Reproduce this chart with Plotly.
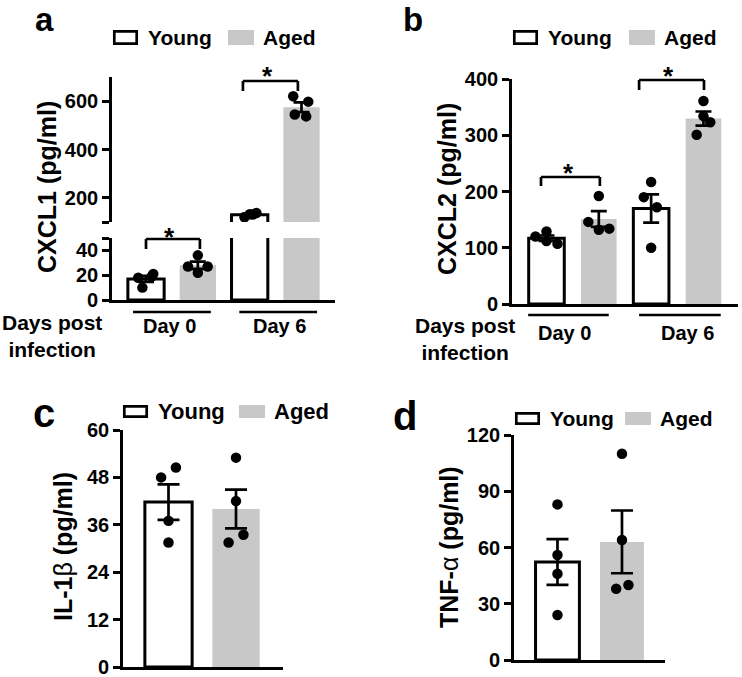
import numpy as np
import plotly.graph_objects as go

# values in pg/ml, 4 mice per group
days = ["Day 0", "Day 6"]
cxcl1_young = [[18, 10, 19, 21], [120, 137, 132, 131]]
cxcl1_aged = [[36, 27, 22, 27], [620, 598, 545, 537]]
cxcl2_young = [[120, 129, 112, 107], [217, 190, 172, 100]]
cxcl2_aged = [[192, 146, 132, 134], [361, 334, 323, 301]]
il1b_young = [48, 50.5, 37, 31.5]
il1b_aged = [53, 42, 33.5, 31.5]
tnfa_young = [83, 56, 46, 24]
tnfa_aged = [110, 64, 38, 40]

# horizontal spread of the dots (beeswarm look), in bar units
jit_a = [[-0.15, -0.07, 0.11, 0.14], [0, -0.19, 0, 0.19], [-0.1, 0.13, 0.0, 0.06], [-0.16, 0.13, -0.13, 0.09]]
jit_b = [[-0.21, 0, 0, 0.21], [0, -0.2, 0, 0.2], [0, -0.14, 0.11, 0], [0, 0, 0.13, -0.13]]
jit_c = [[-0.11, 0.11, 0, 0], [0, 0, 0.11, -0.11]]
jit_d = [[0, 0, 0, 0], [0, 0, -0.09, 0.1]]

W, H = 742, 677
FONT = "Liberation Sans, Arial, sans-serif"
GREY = "rgb(200,200,200)"
LW = 2.7


def px(x):
    return x / W


def py(y):
    return 1 - y / H


fig = go.Figure()


def add_bar(xpos, vals, jit, young, xa, ya, width, cap, msize=10.5):
    vals = np.array(vals, float)
    se = vals.std(ddof=1) / np.sqrt(len(vals))
    fig.add_trace(go.Bar(
        x=[xpos], y=[vals.mean()], width=width, xaxis=xa, yaxis=ya,
        marker=dict(color="white" if young else GREY,
                    line=dict(color="black", width=3 if young else 0)),
        error_y=dict(type="data", array=[se], color="black", thickness=LW, width=cap),
        showlegend=False, hoverinfo="skip"))
    return (xpos + np.array(jit), vals, xa, ya, msize)


dots = []
# panel a, drawn twice (lower and upper part of the broken axis)
for xa, ya in [("x", "y"), ("x2", "y2")]:
    for i in range(len(days)):
        dots.append(add_bar(2 * i, cxcl1_young[i], jit_a[2 * i], True, xa, ya, 0.7, 8))
        dots.append(add_bar(2 * i + 1, cxcl1_aged[i], jit_a[2 * i + 1], False, xa, ya, 0.7, 8))
# panel b
for i in range(len(days)):
    dots.append(add_bar(2 * i, cxcl2_young[i], jit_b[2 * i], True, "x3", "y3", 0.68, 8))
    dots.append(add_bar(2 * i + 1, cxcl2_aged[i], jit_b[2 * i + 1], False, "x3", "y3", 0.68, 8))
# panel c, d
dots.append(add_bar(0, il1b_young, jit_c[0], True, "x4", "y4", 0.7, 11))
dots.append(add_bar(1, il1b_aged, jit_c[1], False, "x4", "y4", 0.7, 11))
dots.append(add_bar(0, tnfa_young, jit_d[0], True, "x5", "y5", 0.68, 11))
dots.append(add_bar(1, tnfa_aged, jit_d[1], False, "x5", "y5", 0.68, 11))

for xs, ys, xa, ya, ms in dots:
    fig.add_trace(go.Scatter(x=xs, y=ys, mode="markers", xaxis=xa, yaxis=ya,
                             marker=dict(color="black", size=ms),
                             showlegend=False, hoverinfo="skip"))

tickfont = dict(family=FONT, size=20, color="black", weight="bold")
yax = dict(showline=True, linecolor="black", linewidth=LW, showgrid=False, zeroline=False,
           ticks="outside", ticklen=7, tickwidth=LW, tickcolor="black", tickfont=tickfont,
           ticklabeloverflow="allow", fixedrange=True)
xax = dict(showline=True, linecolor="black", linewidth=LW, showgrid=False, zeroline=False,
           ticks="", showticklabels=False, fixedrange=True)

fig.update_layout(
    width=W, height=H, margin=dict(l=0, r=0, t=0, b=0, autoexpand=False),
    paper_bgcolor="white", plot_bgcolor="rgba(0,0,0,0)",
    barmode="overlay", showlegend=False,
    font=dict(family=FONT, color="black"),
    xaxis=dict(xax, domain=[px(112), px(335)], range=[-0.656, 3.646], anchor="y"),
    yaxis=dict(yax, domain=[py(300), py(238)], range=[0, 50], anchor="x",
               tickvals=[0, 20, 40, 50], ticktext=["0", "20", "40", ""]),
    xaxis2=dict(xax, domain=[px(112), px(335)], range=[-0.656, 3.646], anchor="y2", visible=False),
    yaxis2=dict(yax, domain=[py(222), py(77)], range=[100, 700], anchor="x2",
                tickvals=[100, 200, 400, 600], ticktext=["", "200", "400", "600"]),
    xaxis3=dict(xax, domain=[px(512), px(738)], range=[-0.659, 3.66], anchor="y3"),
    yaxis3=dict(yax, domain=[py(304), py(79)], range=[0, 400], dtick=100, anchor="x3"),
    xaxis4=dict(xax, domain=[px(123), px(283)], range=[-0.674, 1.696], anchor="y4"),
    yaxis4=dict(yax, domain=[py(667), py(430)], range=[0, 60], dtick=12, anchor="x4"),
    xaxis5=dict(xax, domain=[px(514), px(665)], range=[-0.674, 1.667], anchor="y5"),
    yaxis5=dict(yax, domain=[py(660), py(435)], range=[0, 120], dtick=30, anchor="x5"),
)

shapes = []
ann = []


def text(x, y, s, size, xref="paper", xanchor="center", angle=0, yanchor="middle"):
    ann.append(dict(x=x if xref != "paper" else px(x), y=py(y), xref=xref, yref="paper",
                    text=s, showarrow=False, xanchor=xanchor, yanchor=yanchor, borderpad=0,
                    textangle=angle, font=dict(family=FONT, size=size, color="black", weight="bold")))


def line(x0, x1, y0, y1, xref="paper"):
    if xref == "paper":
        x0, x1 = px(x0), px(x1)
    shapes.append(dict(type="line", xref=xref, yref="paper", x0=x0, x1=x1, y0=py(y0), y1=py(y1),
                       line=dict(color="black", width=LW)))


def bracket(xref, xl, xr, y, ylow, xs, ys):
    line(xl, xr, y, y, xref)
    line(xl, xl, y, ylow, xref)
    line(xr, xr, y, ylow, xref)
    text(xs, ys, "*", 26, xref)


def legend(xy, xa, y0, y1, size):
    shapes.append(dict(type="rect", xref="paper", yref="paper", x0=px(xy + 1.3), x1=px(xy + 25 - 1.3),
                       y0=py(y1 - 1.3), y1=py(y0 + 1.3), fillcolor="white",
                       line=dict(color="black", width=LW)))
    shapes.append(dict(type="rect", xref="paper", yref="paper", x0=px(xa), x1=px(xa + 26),
                       y0=py(y1), y1=py(y0), fillcolor=GREY, line=dict(width=0)))
    yc = (y0 + y1) / 2
    text(xy + 34, yc, "Young", size, xanchor="left")
    text(xa + 34, yc, "Aged", size, xanchor="left")


# panel letters
text(44, 0, "a", 33, yanchor="top")
text(413, 0, "b", 33, yanchor="top")
text(44, 413, "c", 40)
text(405, 416, "d", 40)

legend(113, 228, 30, 45, 21)
legend(513, 629, 30, 45, 21)
legend(123, 239, 405, 418, 22)
legend(515, 625, 412, 425, 21)

# axis titles
text(47, 187, "CXCL1 (pg/ml)", 25, angle=-90)
text(447, 189, "CXCL2 (pg/ml)", 25, angle=-90)
text(63, 546, "IL-1<span style='font-weight:normal'>β</span> (pg/ml)", 25, angle=-90)
text(449, 547, "TNF-<span style='font-weight:normal'>α</span> (pg/ml)", 25, angle=-90)

# significance
bracket("x", 0.0, 1.04, 239, 249, 0.46, 237)
bracket("x", 1.87, 2.93, 81, 91, 2.35, 76)
bracket("x3", -0.105, 1.02, 177, 186, 0.43, 173)
bracket("x3", 1.77, 3.01, 80, 90, 2.34, 76)

# day grouping under the x axis
line(-0.25, 1.25, 312, 312, "x")
line(1.8, 3.3, 312, 312, "x")
text(0.46, 325.5, days[0], 20, "x")
text(2.57, 325.5, days[1], 20, "x")
text(52, 335.5, "Days post<br>infection", 21)

line(-0.35, 1.19, 315, 315, "x3")
line(1.77, 3.33, 315, 315, "x3")
text(0.35, 332.5, days[0], 20, "x3")
text(2.7, 332.5, days[1], 20, "x3")
text(465, 338.5, "Days post<br>infection", 21)

fig.update_layout(shapes=shapes, annotations=ann)
# the page body keeps its default 8px margin otherwise
fig.write_html("out.html", config={"displayModeBar": False},
               post_script="document.body.style.margin='0';")
